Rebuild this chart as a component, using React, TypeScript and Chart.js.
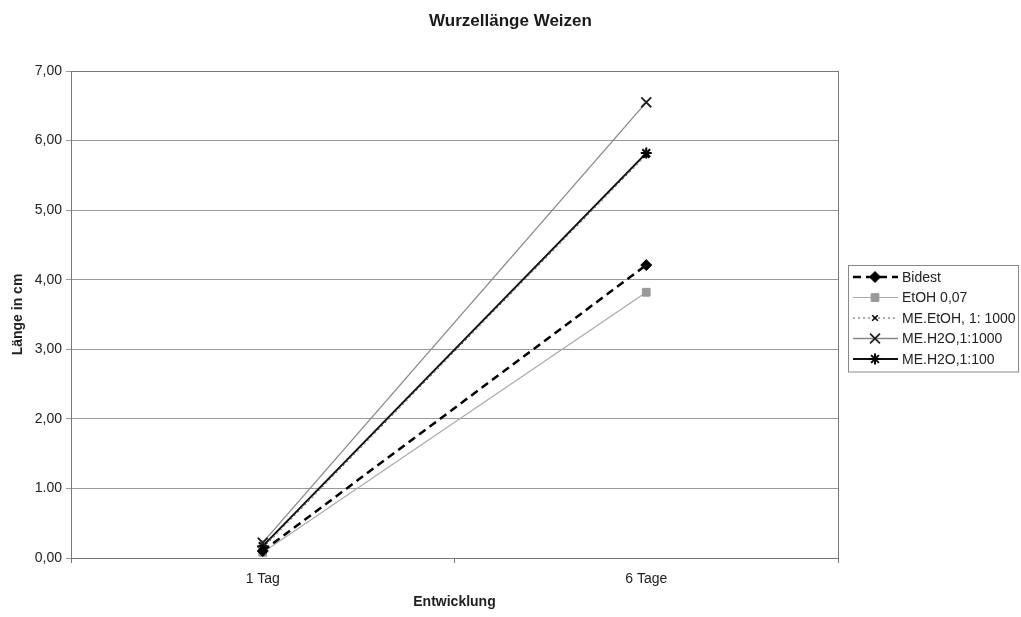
import React, { useEffect, useRef } from 'react';
import { Chart, registerables } from 'chart.js';
import { drawPoint } from 'chart.js/helpers';

Chart.register(...registerables);

const chartTitle = 'Wurzellänge Weizen';
const categories = ['1 Tag', '6 Tage'];
const yTickLabels = ['0,00', '1.00', '2,00', '3,00', '4,00', '5,00', '6,00', '7,00'];
const seriesNames = ['Bidest', 'EtOH 0,07', 'ME.EtOH, 1: 1000', 'ME.H2O,1:1000', 'ME.H2O,1:100'];
const bidest = [0.1, 4.21];
const etoh = [0.08, 3.82];
const meEtoh = [0.14, 5.79];
const meH2o1000 = [0.22, 6.55];
const meH2o100 = [0.17, 5.82];

const FONT = '"Liberation Sans", Arial, sans-serif';

const pageTitle = {
  id: 'pageTitle',
  afterDraw(chart: any) {
    const { ctx } = chart;
    ctx.save();
    ctx.fillStyle = '#1a1a1a';
    ctx.font = 'bold 17px ' + FONT;
    ctx.textAlign = 'center';
    ctx.textBaseline = 'middle';
    ctx.fillText(chartTitle, chart.width / 2, 21);
    ctx.restore();
  },
};

const plotFrame = {
  id: 'plotFrame',
  beforeDatasetsDraw(chart: any) {
    const { ctx, chartArea: a } = chart;
    ctx.save();
    ctx.strokeStyle = '#777';
    ctx.lineWidth = 1;
    ctx.strokeRect(Math.round(a.left) + 0.5, Math.round(a.top) + 0.5, Math.round(a.right - a.left), Math.round(a.bottom - a.top));
    ctx.restore();
  },
};

const boxLegend = {
  id: 'boxLegend',
  afterDraw(chart: any) {
    const { ctx } = chart;
    const ds = chart.data.datasets;
    const x0 = 848, y0 = 265, w = 170, rowH = 20.5, padT = 12;
    const h = ds.length * rowH + 4;
    ctx.save();
    ctx.fillStyle = '#fff';
    ctx.fillRect(x0, y0, w, h);
    ctx.strokeStyle = '#888';
    ctx.lineWidth = 1;
    ctx.strokeRect(x0 + 0.5, y0 + 0.5, w, h);
    ds.forEach((d: any, i: number) => {
      const y = y0 + padT + i * rowH;
      ctx.save();
      ctx.strokeStyle = d.borderColor;
      ctx.lineWidth = d.borderWidth;
      ctx.setLineDash(d.borderDash || []);
      ctx.beginPath();
      ctx.moveTo(x0 + 5, y);
      ctx.lineTo(x0 + 50, y);
      ctx.stroke();
      ctx.setLineDash([]);
      ctx.fillStyle = d.pointBackgroundColor;
      ctx.strokeStyle = d.pointBorderColor;
      ctx.lineWidth = d.pointBorderWidth;
      drawPoint(ctx, { pointStyle: d.pointStyle, rotation: 0, radius: d.pointRadius, borderWidth: d.pointBorderWidth }, x0 + 27, y);
      ctx.restore();
      ctx.fillStyle = '#222';
      ctx.font = '14px ' + FONT;
      ctx.textBaseline = 'middle';
      ctx.textAlign = 'left';
      ctx.fillText(d.label, x0 + 54, y + 1);
    });
    ctx.restore();
  },
};

export default function App() {
  const ref = useRef<HTMLCanvasElement | null>(null);
  useEffect(() => {
    if (!ref.current) return;
    const chart = new Chart(ref.current, {
      type: 'line',
      data: {
        labels: categories,
        datasets: [
          {
            label: seriesNames[0], data: bidest, borderColor: '#000', borderWidth: 2.5, borderDash: [8, 5],
            pointStyle: 'rectRot', pointRadius: 5.5, pointBackgroundColor: '#000', pointBorderColor: '#000', pointBorderWidth: 1,
          },
          {
            label: seriesNames[1], data: etoh, borderColor: '#aaa', borderWidth: 1.2,
            pointStyle: 'rect', pointRadius: 5.5, pointBackgroundColor: '#999', pointBorderColor: '#999', pointBorderWidth: 1,
          },
          {
            label: seriesNames[2], data: meEtoh, borderColor: '#555', borderWidth: 1, borderDash: [2, 3],
            pointStyle: 'crossRot', pointRadius: 4, pointBackgroundColor: '#000', pointBorderColor: '#000', pointBorderWidth: 1.5,
          },
          {
            label: seriesNames[3], data: meH2o1000, borderColor: '#888', borderWidth: 1.3,
            pointStyle: 'crossRot', pointRadius: 7, pointBackgroundColor: '#222', pointBorderColor: '#222', pointBorderWidth: 1.8,
          },
          {
            label: seriesNames[4], data: meH2o100, borderColor: '#111', borderWidth: 2,
            pointStyle: 'star', pointRadius: 5.5, pointBackgroundColor: '#000', pointBorderColor: '#000', pointBorderWidth: 2,
          },
        ],
      },
      options: {
        animation: false,
        responsive: true,
        maintainAspectRatio: false,
        layout: { padding: { top: 71, left: 0, right: 183, bottom: 0 } },
        plugins: {
          legend: { display: false },
          tooltip: { enabled: false },
          title: { display: false },
        },
        scales: {
          x: {
            type: 'category',
            offset: true,
            afterFit: (s: any) => { s.height = 59; },
            grid: { offset: true, drawOnChartArea: false, drawTicks: true, tickLength: 5, color: '#777' },
            border: { color: '#777', width: 1 },
            ticks: { color: '#222', font: { family: FONT, size: 14 }, padding: 8 },
            title: {
              display: true, text: 'Entwicklung', color: '#222',
              font: { family: FONT, size: 14, weight: 'bold' }, padding: { top: 0, bottom: 6 },
            },
          },
          y: {
            min: 0,
            max: 7,
            afterFit: (s: any) => { s.width = 71; },
            grid: { color: '#999', lineWidth: 1, tickLength: 5 },
            border: { color: '#777', width: 1 },
            ticks: {
              stepSize: 1,
              color: '#222',
              font: { family: FONT, size: 14 },
              padding: 4,
              callback: (v: any) => yTickLabels[Math.round(Number(v))] ?? '',
            },
            title: {
              display: true, text: 'Länge in cm', color: '#222',
              font: { family: FONT, size: 14, weight: 'bold' }, padding: { top: 10, bottom: 0 },
            },
          },
        },
      },
      plugins: [plotFrame, boxLegend, pageTitle],
    });
    return () => chart.destroy();
  }, []);
  return (
    <div style={{ position: 'fixed', left: 0, top: 0, width: 1021, height: 617, background: '#fff' }}>
      <canvas ref={ref} />
    </div>
  );
}
